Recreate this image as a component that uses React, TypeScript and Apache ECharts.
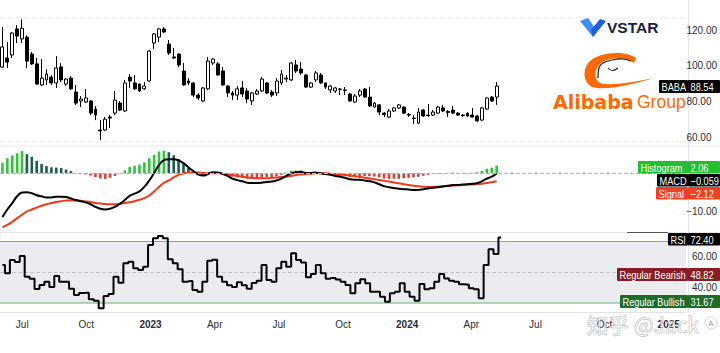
import React, { useEffect, useRef } from 'react';
import * as echarts from 'echarts';

// ---------- data (weekly bars from 2022-06-06) ----------
const opens = [99.2,104.3,106.0,120.6,115.0,116.0,106.5,101.0,89.2,92.0,93.6,90.3,99.3,89.7,93.0,85.2,80.2,79.6,80.2,75.7,63.9,63.9,71.2,73.4,79.0,74.6,93.6,90.3,89.7,87.0,91.4,112.7,116.0,120.6,112.1,104.9,106.5,97.0,91.4,90.3,83.5,80.2,87.0,101.5,101.0,97.0,88.6,84.7,83.5,87.5,85.8,80.2,84.1,85.8,90.3,85.2,84.7,90.3,92.5,92.0,100.4,98.1,94.8,88.0,92.0,94.8,90.3,86.4,85.8,86.7,86.4,84.1,79.6,83.5,86.9,82.4,76.8,78.0,73.4,71.2,74.6,76.3,76.8,72.6,70.6,67.8,75.1,72.3,72.3,73.4,76.3,74.3,75.1,73.4,72.3,73.4,72.3,71.8,69.5,75.7,82.4,82.4];
const highs = [121.7,113.3,118.9,122.8,126.0,117.0,107.7,104.3,103.7,98.0,94.8,105.4,101.5,93.0,94.2,89.2,83.0,86.9,80.7,77.4,69.5,71.2,72.3,85.8,80.2,92.0,95.3,94.8,90.0,90.8,108.8,118.3,121.0,121.7,114.4,109.9,107.1,101.5,93.0,90.8,84.7,88.0,104.9,104.3,102.0,99.3,89.2,85.8,88.6,91.4,87.5,85.2,86.9,93.6,90.8,86.4,93.0,97.6,94.8,102.0,103.2,102.0,95.3,90.8,97.0,95.9,90.6,89.2,88.0,87.5,88.0,84.7,84.1,86.9,87.5,88.0,79.6,78.5,74.0,75.7,76.8,78.5,77.2,73.4,72.3,76.3,75.7,78.5,75.1,77.4,78.0,75.1,77.4,74.0,72.9,73.7,76.3,72.3,76.8,82.4,83.0,90.8];
const lows = [98.7,98.7,104.3,112.7,112.7,98.7,100.4,89.2,88.6,89.2,89.2,87.5,90.8,88.6,86.4,78.0,76.8,79.0,72.3,69.5,58.3,63.4,65.0,72.3,74.6,74.0,87.5,86.4,85.2,86.4,90.8,109.3,113.3,118.3,106.0,103.7,99.3,88.6,89.2,82.4,80.7,79.6,86.4,100.4,94.2,88.6,82.4,80.7,80.7,82.4,79.0,78.0,83.5,85.2,84.2,82.4,83.0,89.2,90.8,91.4,95.9,94.8,87.6,87.5,90.8,89.8,87.0,84.7,84.7,83.5,83.5,79.6,79.0,82.4,82.0,76.8,76.5,72.3,71.2,70.6,74.0,75.7,72.9,71.2,67.3,67.3,71.2,71.2,71.8,73.0,74.0,71.2,72.9,71.8,71.2,71.2,70.9,68.4,69.0,75.1,79.6,78.0];
const closes = [110.5,102.0,118.3,116.6,121.0,102.6,101.0,89.7,93.0,95.3,90.3,98.7,92.0,92.5,87.0,79.0,81.3,81.9,73.4,72.3,63.4,70.0,70.6,80.7,75.1,90.3,91.4,87.0,85.8,88.6,108.2,117.8,120.6,118.9,107.1,104.3,100.4,89.2,90.3,83.5,81.9,87.5,102.6,103.7,94.8,89.2,84.7,83.5,87.0,84.1,81.3,84.7,85.8,92.5,84.7,83.5,91.4,95.3,93.1,101.5,97.0,95.9,88.0,90.3,95.9,90.3,88.0,88.6,87.5,86.9,86.1,80.2,83.0,85.8,82.4,77.4,79.0,74.0,72.6,74.6,76.3,78.0,73.4,72.3,70.4,74.0,71.8,72.0,74.0,76.8,74.6,73.7,73.4,72.3,72.1,71.8,71.2,69.0,76.3,81.9,80.2,88.54];

const macdLine = [-11.6,-9.6,-7.9,-6.1,-5.1,-5.0,-5.3,-5.8,-6.1,-6.4,-6.4,-6.2,-6.2,-6.3,-6.7,-7.1,-7.4,-7.7,-8.2,-8.9,-9.4,-9.6,-9.4,-8.9,-8.1,-7.1,-6.0,-5.4,-4.8,-3.6,-1.9,0.1,2.2,3.5,3.7,3.7,3.4,2.7,1.6,0.6,-0.3,-0.6,-0.2,0.3,0.2,-0.1,-0.7,-1.4,-1.8,-2.1,-2.5,-2.6,-2.6,-2.5,-2.3,-2.2,-1.9,-1.4,-0.7,0.0,0.3,0.4,0.1,0.1,0.2,0.0,-0.2,-0.4,-0.7,-0.9,-1.2,-1.6,-1.7,-1.7,-1.9,-2.1,-2.4,-2.9,-3.4,-3.7,-3.9,-4.1,-4.2,-4.3,-4.4,-4.4,-4.2,-4.0,-3.8,-3.7,-3.5,-3.3,-3.1,-3.1,-3.0,-2.9,-2.8,-2.6,-2.1,-1.4,-0.9,-0.059];
const signalLine = [-14.3,-13.7,-12.9,-11.9,-11.0,-10.1,-9.6,-9.1,-8.6,-8.2,-7.9,-7.6,-7.4,-7.2,-7.2,-7.25,-7.3,-7.45,-7.6,-7.85,-8.0,-8.15,-8.2,-8.2,-8.05,-7.9,-7.7,-7.4,-7.0,-6.6,-5.9,-4.8,-3.6,-2.5,-1.9,-1.1,-0.4,-0.05,0.2,0.2,0.2,0.1,0.0,0.0,0.0,-0.15,-0.3,-0.5,-0.7,-0.9,-1.1,-1.2,-1.3,-1.3,-1.3,-1.2,-1.1,-1.0,-0.9,-0.7,-0.45,-0.3,-0.2,-0.1,0.0,0.0,0.0,-0.1,-0.2,-0.3,-0.45,-0.6,-0.75,-0.95,-1.15,-1.35,-1.55,-1.8,-2.0,-2.2,-2.45,-2.65,-2.9,-3.1,-3.3,-3.45,-3.55,-3.6,-3.6,-3.55,-3.45,-3.4,-3.3,-3.2,-3.1,-3.0,-2.95,-2.85,-2.75,-2.6,-2.4,-2.12];
const histogram = [2.8,4.0,4.7,5.3,5.9,5.1,4.4,3.3,2.5,1.9,1.6,1.5,1.4,1.0,0.6,0.1,-0.2,-0.3,-0.6,-1.0,-1.4,-1.5,-1.2,-0.7,-0.1,0.8,1.7,2.0,2.3,2.9,4.0,4.9,5.8,6.0,5.6,4.8,3.8,2.7,1.4,0.4,-0.5,-0.7,-0.2,0.3,0.2,0.05,-0.4,-0.9,-1.1,-1.2,-1.4,-1.4,-1.3,-1.2,-1.0,-1.0,-0.8,-0.4,0.2,0.7,0.75,0.7,0.3,0.2,0.2,0.0,-0.2,-0.3,-0.5,-0.6,-0.75,-1.0,-0.95,-0.75,-0.75,-0.75,-0.85,-1.1,-1.4,-1.5,-1.45,-1.45,-1.3,-1.2,-1.1,-0.95,-0.65,-0.4,-0.2,-0.15,-0.05,0.1,0.2,0.1,0.1,0.1,0.15,0.25,0.65,1.2,1.5,2.06];
const rsi = [54.6,49.3,57.9,56.5,60.5,47.1,45.8,39.2,41.7,43.9,40.5,47.5,43.9,43.9,39.4,35.3,36.5,36.8,32.5,31.5,26.8,34.6,35.9,47.1,43.2,55.7,56.8,52.5,51.4,53.5,67.5,71.9,73.4,71.9,58.3,55.7,51.9,43.9,44.3,38.5,37.4,43.9,57.4,58.0,47.1,43.9,41.5,40.5,43.5,41.5,39.4,43.0,44.5,54.6,45.0,43.9,52.5,56.8,53.5,62.2,57.9,56.2,46.7,48.8,54.6,49.3,45.7,46.2,45.3,43.9,41.7,36.4,42.8,45.4,42.8,37.4,37.4,34.2,31.0,36.4,37.4,42.8,37.4,34.2,31.6,42.4,39.0,39.6,43.9,48.8,46.0,44.5,43.9,42.2,42.0,39.6,39.0,33.2,54.6,64.8,61.7,72.4];

const divergenceBearish = 48.82;
const divergenceBullish = 31.67;

const priceTicks = [60, 80, 100, 120];
const macdTicks = [-10];
const rsiTicks = [40, 60];
const monthNames = ['Jan','Feb','Mar','Apr','May','Jun','Jul','Aug','Sep','Oct','Nov','Dec'];

const FIRST_WEEK_UTC = Date.UTC(2022, 5, 6);
const WEEK_COUNT = 139;

const FONT = "'Liberation Sans', Arial, sans-serif";

function buildWeeks(): string[] {
  const out: string[] = [];
  for (let i = 0; i < WEEK_COUNT; i++) {
    const d = new Date(FIRST_WEEK_UTC + i * 7 * 86400000);
    const m = String(d.getUTCMonth() + 1).padStart(2, '0');
    const day = String(d.getUTCDate()).padStart(2, '0');
    out.push(`${d.getUTCFullYear()}-${m}-${day}`);
  }
  return out;
}

const minus = (v: number, digits: number) => (v < 0 ? '\u2212' : '') + Math.abs(v).toFixed(digits);

function box(x: number, y: number, w: number, h: number, fill: string, text: string) {
  return {
    type: 'group',
    z: 100,
    children: [
      { type: 'rect', shape: { x, y, width: w, height: h, r: 1 }, style: { fill }, z: 100 },
      {
        type: 'text', z: 101, x: x + 2.5, y: y + h / 2 + 0.5, scaleX: 0.84,
        style: { text, x: 0, y: 0, fill: '#ffffff', fontSize: 11, fontFamily: FONT, align: 'left', verticalAlign: 'middle', textAlign: 'left', textVerticalAlign: 'middle' },
      },
    ],
  };
}

export default function App() {
  const ref = useRef<HTMLDivElement>(null);

  useEffect(() => {
    document.body.style.margin = '0';
    if (!ref.current) return;
    const chart = echarts.init(ref.current, undefined, { renderer: 'svg' });
    const weeks = buildWeeks();

    const GREEN_UP = '#33c23c', GREEN_DN = '#1d5e50', RED_DN = '#e8412c', RED_UP = '#c9473a';
    const histData = histogram.map((v, i) => {
      const p = i > 0 ? histogram[i - 1] : v;
      const c = v >= 0 ? (v >= p ? GREEN_UP : GREEN_DN) : (v < p ? RED_DN : RED_UP);
      return { value: v, itemStyle: { color: c } };
    });
    const candleData = opens.map((o, i) => [o, closes[i], lows[i], highs[i]]);

    const labelInterval = (_i: number, value: string) => {
      const d = new Date(value + 'T00:00:00Z');
      return d.getUTCDate() <= 7 && d.getUTCMonth() % 3 === 0;
    };
    const labelFormatter = (value: string) => {
      const d = new Date(value + 'T00:00:00Z');
      const m = d.getUTCMonth();
      return m === 0 ? `{y|${d.getUTCFullYear()}}` : monthNames[m];
    };

    const axisLabelBase = { color: '#2a2e39', fontSize: 10, fontFamily: FONT, margin: 6 };
    const lastIdx = closes.length - 1;

    const option: any = {
      animation: false,
      backgroundColor: '#ffffff',
      grid: [
        { left: 0, right: 32, top: 18, height: 123 },
        { left: 0, right: 32, top: 147, height: 85 },
        { left: 0, right: 32, top: 233, height: 79 },
      ],
      xAxis: [0, 1, 2].map((g) => ({
        type: 'category',
        gridIndex: g,
        data: weeks,
        boundaryGap: true,
        axisTick: { show: false },
        splitLine: { show: false },
        axisLine: { show: g === 2, lineStyle: { color: '#e0e3eb' } },
        axisLabel: g === 2
          ? { show: true, interval: labelInterval, formatter: labelFormatter, color: '#2a2e39', fontSize: 10, fontFamily: FONT, margin: 7,
              rich: { y: { fontWeight: 'bold', fontSize: 10, fontFamily: FONT, color: '#2a2e39' } } }
          : { show: false },
      })),
      yAxis: [
        { gridIndex: 0, type: 'value', position: 'right', min: 57.76, max: 126.73,
          splitLine: { show: false }, axisLine: { show: false }, axisTick: { show: false },
          axisLabel: { ...axisLabelBase, customValues: priceTicks, formatter: (v: number) => v.toFixed(2) } },
        { gridIndex: 1, type: 'value', position: 'right', min: -15.57, max: 6.98,
          splitLine: { show: false }, axisLine: { show: false }, axisTick: { show: false },
          axisLabel: { ...axisLabelBase, customValues: macdTicks, formatter: (v: number) => minus(v, 2) } },
        { gridIndex: 2, type: 'value', position: 'right', min: 24.32, max: 75.29,
          splitLine: { show: false }, axisLine: { show: false }, axisTick: { show: false },
          axisLabel: { ...axisLabelBase, customValues: rsiTicks, formatter: (v: number) => v.toFixed(2) } },
      ],
      series: [
        {
          type: 'candlestick', xAxisIndex: 0, yAxisIndex: 0, data: candleData, barWidth: 3.4,
          itemStyle: { color: '#ffffff', color0: '#000000', borderColor: '#000000', borderColor0: '#000000', borderWidth: 1 },
        },
        {
          type: 'bar', xAxisIndex: 1, yAxisIndex: 1, data: histData, barWidth: 2.6,
          markLine: { silent: true, symbol: 'none', label: { show: false },
            lineStyle: { color: '#b2b5be', type: 'dashed', width: 1 }, data: [{ yAxis: 0 }] },
        },
        { type: 'line', xAxisIndex: 1, yAxisIndex: 1, data: signalLine, symbol: 'none', smooth: 0.4,
          lineStyle: { color: '#ec3a1e', width: 2 } },
        { type: 'line', xAxisIndex: 1, yAxisIndex: 1, data: macdLine, symbol: 'none', smooth: 0.4,
          lineStyle: { color: '#000000', width: 2 } },
        {
          type: 'line', xAxisIndex: 2, yAxisIndex: 2, data: rsi, symbol: 'none', step: 'middle',
          lineStyle: { color: '#000000', width: 2 }, z: 5,
          markArea: { silent: true, itemStyle: { color: '#ebebf0' }, data: [[{ yAxis: 30 }, { yAxis: 70 }]] },
          markLine: { silent: true, symbol: 'none', label: { show: false },
            data: [
              { yAxis: 70, lineStyle: { color: '#ef7d4f', width: 1, type: 'solid' } },
              { yAxis: 50, lineStyle: { color: '#c3c5cc', width: 1, type: 'dashed' } },
              { yAxis: 30, lineStyle: { color: '#86cfa5', width: 1.5, type: 'solid' } },
            ] },
        },
      ],
      graphic: [
        // pane separators and price-scale border
        { type: 'line', shape: { x1: 0, y1: 18, x2: 688, y2: 18 }, style: { stroke: '#e6e7ea', lineWidth: 1, lineDash: [2, 2] } },
        { type: 'line', shape: { x1: 0, y1: 141.5, x2: 688, y2: 141.5 }, style: { stroke: '#e6e7ea', lineWidth: 1, lineDash: [2, 2] } },
        { type: 'line', shape: { x1: 0, y1: 146, x2: 720, y2: 146 }, style: { stroke: '#e6e7ea', lineWidth: 1 } },
        { type: 'line', shape: { x1: 0, y1: 232.5, x2: 720, y2: 232.5 }, style: { stroke: '#e6e7ea', lineWidth: 1 } },
        { type: 'line', shape: { x1: 688.5, y1: 0, x2: 688.5, y2: 312 }, style: { stroke: '#e0e3eb', lineWidth: 1 } },
        { type: 'line', shape: { x1: 627, y1: 232.5, x2: 668, y2: 232.5 }, style: { stroke: '#555555', lineWidth: 1 }, z: 99 },

        // VSTAR logo
        { type: 'polygon', shape: { points: [[580, 21], [588, 18], [597, 31], [593, 37]] }, style: { fill: '#3d8ef5' }, z: 50 },
        { type: 'polygon', shape: { points: [[593, 37], [591, 30], [600, 19], [606, 21]] }, style: { fill: '#1d5fd8' }, z: 50 },
        { type: 'text', z: 50, style: { text: 'VSTAR', x: 607, y: 27.5, fill: '#1b2140', fontSize: 15.5, fontWeight: 'bold', fontFamily: FONT, verticalAlign: 'middle', textVerticalAlign: 'middle' } },

        // Alibaba Group logo
        { type: 'aliSwoosh', x: 0, y: 0, style: { fill: '#ff6a00' }, z: 50 },
        { type: 'polyline', shape: { points: [[598, 78], [599, 68], [603, 63], [612, 60], [622, 59], [631, 61]], smooth: 0.4 }, style: { stroke: '#222222', lineWidth: 1.2, fill: null }, z: 51 },
        { type: 'bezierCurve', shape: { x1: 608, y1: 68, x2: 618, y2: 68, cpx1: 612, cpy1: 73 }, style: { stroke: '#222222', lineWidth: 1.2, fill: null }, z: 51 },
        { type: 'text', z: 50, style: { text: 'Alibaba', x: 553, y: 101.5, fill: '#ff6a00', fontSize: 19, fontWeight: 'bold', fontFamily: "'DejaVu Sans', sans-serif", verticalAlign: 'middle', textVerticalAlign: 'middle' } },
        { type: 'text', z: 50, style: { text: 'Group', x: 637, y: 101.5, fill: '#ff6a00', fontSize: 17.5, fontFamily: FONT, verticalAlign: 'middle', textVerticalAlign: 'middle' } },

        // value boxes
        box(659, 80, 29, 13, '#000000', 'BABA'),
        box(688, 80, 32, 13, '#000000', closes[lastIdx].toFixed(2)),
        box(638, 161, 50, 12.5, '#22c02e', 'Histogram'),
        box(688, 161, 32, 12.5, '#22c02e', minus(histogram[lastIdx], 2)),
        box(657, 174, 31, 12.5, '#000000', 'MACD'),
        box(688, 174, 32, 12.5, '#000000', minus(macdLine[lastIdx], 3)),
        box(656, 187, 32, 12.5, '#f0401f', 'Signal'),
        box(688, 187, 32, 12.5, '#f0401f', minus(signalLine[lastIdx], 2)),
        box(668, 233, 20, 12.5, '#000000', 'RSI'),
        box(688, 233, 32, 12.5, '#000000', rsi[lastIdx].toFixed(2)),
        box(617, 268, 71, 13, '#8a1d24', 'Regular Bearish'),
        box(688, 268, 32, 13, '#8a1d24', divergenceBearish.toFixed(2)),
        box(620, 295, 68, 13, '#216b2a', 'Regular Bullish'),
        box(688, 295, 32, 13, '#216b2a', divergenceBullish.toFixed(2)),

        // auto-scale button
        { type: 'circle', shape: { cx: 711, cy: 323, r: 6 }, style: { fill: '#ffffff', stroke: '#d1d4dc', lineWidth: 1 }, z: 60 },
        { type: 'text', z: 61, style: { text: 'A', x: 711, y: 323, fill: '#9598a1', fontSize: 8, fontFamily: FONT, align: 'center', verticalAlign: 'middle', textAlign: 'center', textVerticalAlign: 'middle' } },

        // watermark
        { type: 'text', z: 120, style: { text: '知乎 @Jack', x: 587, y: 324, fill: 'rgba(255,255,255,0.7)', stroke: 'rgba(90,90,90,0.45)', lineWidth: 1, fontSize: 21, fontFamily: "'Noto Sans CJK SC', sans-serif", verticalAlign: 'middle', textVerticalAlign: 'middle' } },
      ],
    };

    chart.setOption(option);
    return () => chart.dispose();
  }, []);

  return <div ref={ref} style={{ position: 'fixed', left: 0, top: 0, width: 720, height: 353, background: '#ffffff' }} />;
}

echarts.graphic.registerShape(
  'aliSwoosh',
  echarts.graphic.extendPath(
    'M636 58 C625 50 600 52 590 61 C582 69 583 82 592 87 C605 91 630 85 654 78 C630 83 608 86 600 83 C594 80 594 70 600 64 C608 57 624 57 634 63 Z',
    {}
  ) as any
);
